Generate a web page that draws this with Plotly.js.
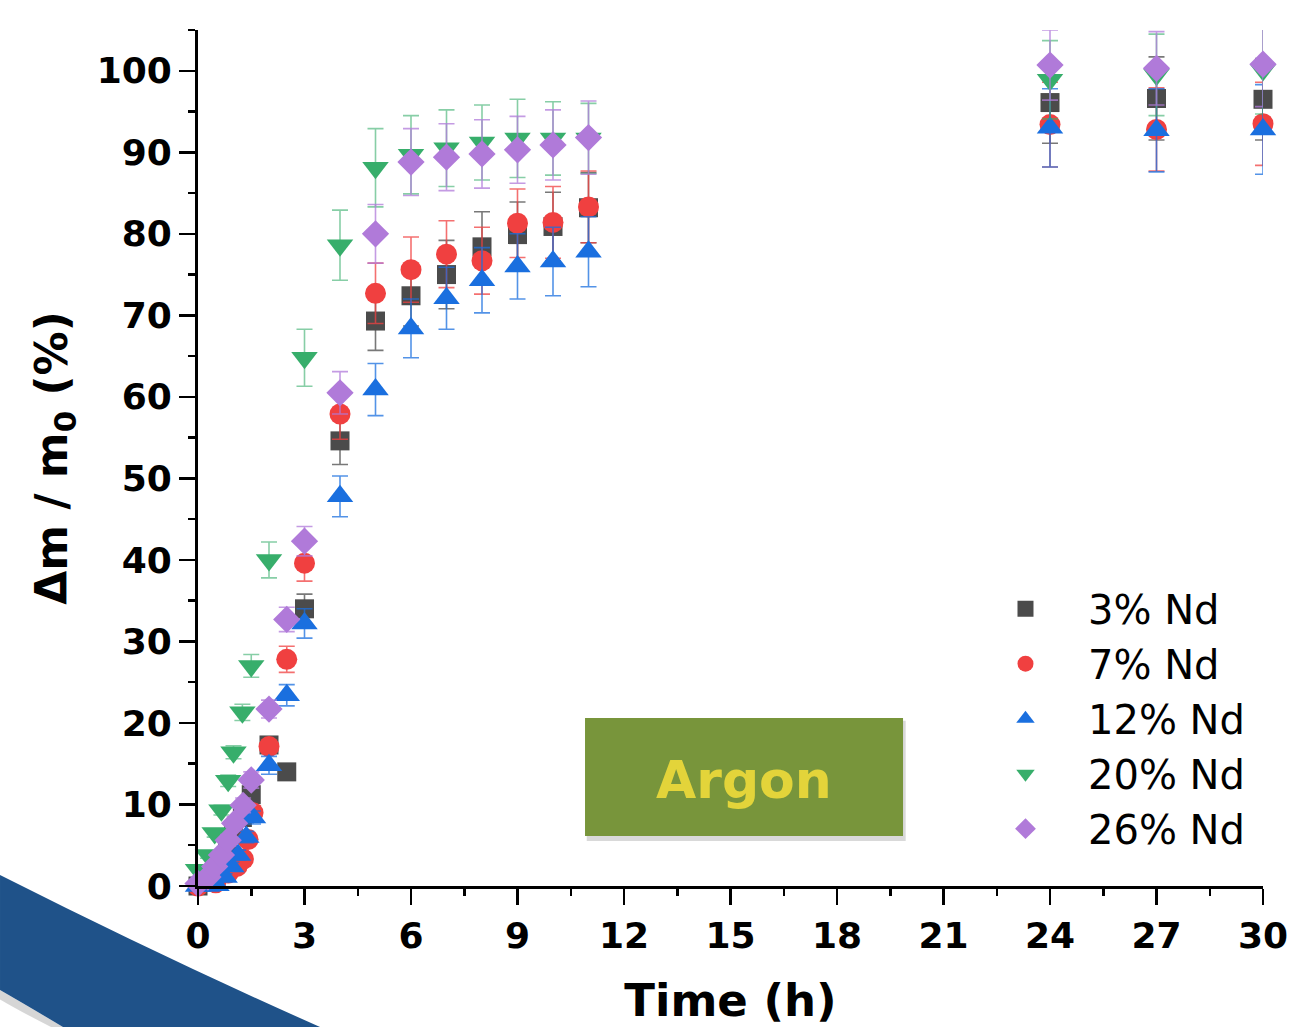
<!DOCTYPE html>
<html>
<head>
<meta charset="utf-8">
<script src="https://cdn.plot.ly/plotly-3.0.1.min.js"></script>
<style>
  html, body { margin: 0; padding: 0; background: #ffffff; }
  #chart { width: 1302px; height: 1027px; }
</style>
</head>
<body>
<div id="chart"></div>
<script>
// ---- Data ----
const seriesNames = ["3% Nd", "7% Nd", "12% Nd", "20% Nd", "26% Nd"];

const times3 = [0, 0.25, 0.5, 0.67, 0.83, 1, 1.25, 1.5, 2, 2.5, 3, 4, 5, 6, 7, 8, 9, 10, 11, 24, 27, 30];
const nd3    = [0, 0.8, 2.0, 3.2, 4.6, 6.3, 8.4, 11.2, 17.3, 14.0, 34.0, 54.6, 69.3, 72.4, 75.0, 78.4, 79.9, 80.9, 83.2, 96.1, 96.6, 96.5];
const err3   = [0.3, 0.4, 0.5, 0.6, 0.7, 0.8, 0.9, 1.0, 1.0, 0.9, 1.8, 2.9, 3.6, 3.7, 4.2, 4.3, 4.0, 4.2, 4.3, 5.0, 5.1, 5.0];

const times7 = [0, 0.5, 0.85, 1.1, 1.28, 1.41, 1.55, 2, 2.5, 3, 4, 5, 6, 7, 8, 9, 10, 11, 24, 27, 30];
const nd7    = [0, 0.4, 1.6, 2.4, 3.3, 5.7, 9.0, 17.1, 27.8, 39.6, 57.9, 72.7, 75.6, 77.5, 76.7, 81.3, 81.4, 83.3, 93.4, 92.8, 93.5];
const err7   = [0.2, 0.3, 0.4, 0.5, 0.5, 0.6, 0.8, 0.6, 1.6, 2.2, 3.1, 3.7, 4.0, 4.1, 4.1, 4.2, 4.4, 4.4, 5.2, 5.1, 5.1];

const times12 = [0, 0.25, 0.52, 0.75, 0.94, 1.13, 1.36, 1.55, 2, 2.5, 3, 4, 5, 6, 7, 8, 9, 10, 11, 24, 27, 30];
const nd12    = [0, 0, 0.1, 1.1, 2.4, 3.8, 6.0, 8.4, 14.8, 23.4, 32.2, 47.8, 60.9, 68.4, 72.1, 74.3, 76.0, 76.6, 77.8, 93.0, 92.7, 92.8];
const err12   = [0.2, 0.2, 0.3, 0.4, 0.5, 0.6, 0.7, 0.8, 1.1, 1.3, 1.8, 2.5, 3.2, 3.6, 3.8, 4.0, 4.0, 4.2, 4.3, 4.8, 5.1, 5.5];

const times20 = [0, 0.28, 0.47, 0.66, 0.85, 1, 1.25, 1.5, 2, 3, 4, 5, 6, 7, 8, 9, 10, 11, 24, 27, 30];
const nd20    = [2.0, 3.8, 6.5, 9.3, 12.9, 16.4, 21.3, 27.0, 40.0, 64.8, 78.6, 88.1, 89.7, 90.5, 91.2, 91.7, 91.7, 91.7, 98.9, 99.5, 100.1];
const err20   = [0.3, 0.4, 0.5, 0.6, 0.7, 0.8, 1.0, 1.4, 2.2, 3.5, 4.3, 4.8, 4.8, 4.7, 4.6, 4.8, 4.5, 4.3, 4.8, 5.0, 5.4];

const times26 = [0, 0.28, 0.47, 0.66, 0.85, 1.03, 1.27, 1.5, 2, 2.5, 3, 4, 5, 6, 7, 8, 9, 10, 11, 24, 27, 30];
const nd26    = [0.3, 1.1, 2.4, 3.8, 5.6, 7.7, 9.9, 13.0, 21.7, 32.7, 42.3, 60.5, 80.0, 88.8, 89.4, 89.8, 90.3, 90.9, 91.8, 100.7, 100.3, 100.8];
const err26   = [0.3, 0.4, 0.5, 0.6, 0.7, 0.8, 0.9, 1.0, 1.1, 1.5, 1.8, 2.6, 3.6, 4.1, 4.1, 4.2, 4.1, 4.3, 4.5, 4.3, 4.5, 5.2];

const xTickVals = [0, 3, 6, 9, 12, 15, 18, 21, 24, 27, 30];
const yTickVals = [0, 10, 20, 30, 40, 50, 60, 70, 80, 90, 100];

// ---- Styles ----
const FONT = "DejaVu Sans, Verdana, sans-serif";
const styles = [
  {color: "#4b4b4b", err: "rgba(75,75,75,0.75)",   symbol: "square",        size: 19},
  {color: "#f04040", err: "rgba(240,64,64,0.75)",  symbol: "circle",        size: 21},
  {color: "#1a6fdf", err: "rgba(26,111,223,0.75)", symbol: "triangle-up",   size: 23},
  {color: "#37ae6b", err: "rgba(55,174,107,0.6)",  symbol: "triangle-down", size: 23},
  {color: "#b07ad9", err: "rgba(176,122,217,0.75)",symbol: "diamond",       size: 21}
];
const xs = [times3, times7, times12, times20, times26];
const ys = [nd3, nd7, nd12, nd20, nd26];
const es = [err3, err7, err12, err20, err26];

const traces = seriesNames.map((name, i) => ({
  type: "scatter",
  mode: "markers",
  name: name,
  x: xs[i],
  y: ys[i],
  cliponaxis: false,
  marker: {color: styles[i].color, symbol: styles[i].symbol, size: styles[i].size, line: {width: 0}},
  error_y: {type: "data", array: es[i], visible: true, color: styles[i].err, thickness: 1.6, width: 8}
}));

const axisCommon = {
  showline: true, linecolor: "#000", linewidth: 3,
  ticks: "outside", ticklen: 16, tickwidth: 2.5, tickcolor: "#000",
  showgrid: false, zeroline: false,
  tickfont: {family: FONT, size: 36, color: "#000", weight: "bold"}
};

const layout = {
  width: 1302, height: 1027,
  margin: {l: 198, r: 39, t: 30, b: 141},
  paper_bgcolor: "#ffffff", plot_bgcolor: "#ffffff",
  showlegend: true,
  legend: {
    x: 0.7183, y: 0.362, xanchor: "left", yanchor: "top",
    font: {family: FONT, size: 40, color: "#000"},
    bgcolor: "rgba(0,0,0,0)", itemwidth: 115, tracegroupgap: 0
  },
  xaxis: Object.assign({}, axisCommon, {
    range: [0, 30], tickmode: "array", tickvals: xTickVals, ticktext: xTickVals.map(String),
    minor: {dtick: 1.5, ticks: "outside", ticklen: 7, tickwidth: 2.5, tickcolor: "#000"},
    title: {text: "Time (h)", font: {family: FONT, size: 45, color: "#000", weight: "bold"}, standoff: 34}
  }),
  yaxis: Object.assign({}, axisCommon, {
    range: [0, 105], tickmode: "array", tickvals: yTickVals, ticktext: yTickVals.map(String),
    minor: {dtick: 5, ticks: "outside", ticklen: 7, tickwidth: 2.5, tickcolor: "#000"},
    title: {text: "Δm / m<sub>0</sub> (%)", font: {family: FONT, size: 44, color: "#000", weight: "bold"}, standoff: 16}
  }),
  shapes: [
    // decorative blue swoosh (soft shadow under its lower edge, then band)
    {type: "path", xref: "paper", yref: "paper", layer: "above",
     path: "M -0.1859,-0.1215 Q -0.16,-0.14 -0.1268,-0.1647 L -0.138,-0.1647 Q -0.166,-0.147 -0.1859,-0.1325 Z",
     fillcolor: "rgba(0,0,0,0.16)", line: {width: 0}},
    {type: "path", xref: "paper", yref: "paper", layer: "above",
     path: "M -0.1859,0.0129 Q -0.03,-0.085 0.1146,-0.1647 L -0.1268,-0.1647 Q -0.16,-0.14 -0.1859,-0.1215 Z",
     fillcolor: "#1f5289", line: {width: 0}},
    // Argon label box: soft shadow then box
    {type: "rect", xref: "paper", yref: "paper", layer: "above",
     x0: 0.3650, x1: 0.6645, y0: 0.0525, y1: 0.1930,
     fillcolor: "rgba(0,0,0,0.15)", line: {width: 0}},
    {type: "rect", xref: "paper", yref: "paper", layer: "above",
     x0: 0.3634, x1: 0.662, y0: 0.0584, y1: 0.1963,
     fillcolor: "#78953b", line: {width: 0}}
  ],
  annotations: [
    {xref: "paper", yref: "paper", x: 0.5127, y: 0.1238, xanchor: "center", yanchor: "middle",
     text: "Argon", showarrow: false,
     font: {family: FONT, size: 52, color: "#e3d43a", weight: "bold"}}
  ]
};

Plotly.newPlot("chart", traces, layout, {displayModeBar: false, staticPlot: true});
</script>
</body>
</html>
